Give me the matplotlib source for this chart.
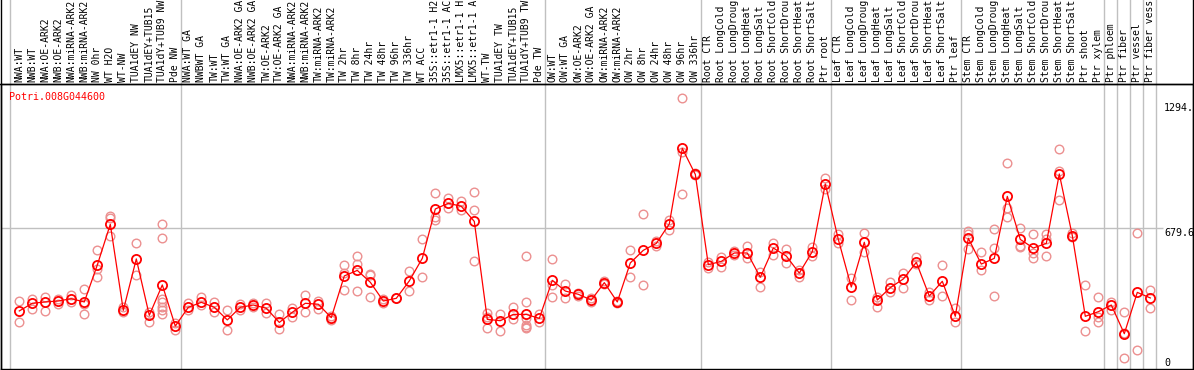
import matplotlib
matplotlib.use("Agg")
import matplotlib.pyplot as plt
from matplotlib.lines import Line2D
from matplotlib.transforms import blended_transform_factory

# ---------------- data ----------------
gene = "Potri.008G044600"

# sample labels as they appear in the chart (cut at 14 characters)
labels = [
    # group 1
    "NWA:WT", "NWB:WT", "NWA:OE-ARK2", "NWB:OE-ARK2", "NWA:miRNA-ARK2", "NWB:miRNA-ARK2",
    "NW 0hr", "WT H2O", "WT-NW", "TUA1dEY NW", "TUA1dEY+TUB15", "TUA1dY+TUB9 NW", "Pde NW",
    # group 2
    "NWA:WT GA", "NWBWT GA", "TW:WT", "TW:WT GA", "NWA:OE-ARK2 GA", "NWB:OE-ARK2 GA",
    "TW:OE-ARK2", "TW:OE-ARK2 GA", "NWA:miRNA-ARK2", "NWB:miRNA-ARK2", "TW:miRNA-ARK2",
    "TW:miRNA-ARK2", "TW 2hr", "TW 8hr", "TW 24hr", "TW 48hr", "TW 96hr", "TW 336hr",
    "WT ACC", "35S::etr1-1 H2", "35S::etr1-1 AC", "LMX5::etr1-1 H", "LMX5::etr1-1 A",
    "WT-TW", "TUA1dEY TW", "TUA1dEY+TUB15", "TUA1dY+TUB9 TW", "Pde TW",
    # group 3
    "OW:WT", "OW:WT GA", "OW:OE-ARK2", "OW:OE-ARK2 GA", "OW:miRNA-ARK2", "OW:miRNA-ARK2",
    "OW 2hr", "OW 8hr", "OW 24hr", "OW 48hr", "OW 96hr", "OW 336hr",
    # group 4
    "Root CTR", "Root LongCold", "Root LongDroug", "Root LongHeat", "Root LongSalt",
    "Root ShortCold", "Root ShortDrou", "Root ShortHeat", "Root ShortSalt", "Ptr root",
    # group 5
    "Leaf CTR", "Leaf LongCold", "Leaf LongDroug", "Leaf LongHeat", "Leaf LongSalt",
    "Leaf ShortCold", "Leaf ShortDrou", "Leaf ShortHeat", "Leaf ShortSalt", "Ptr leaf",
    # group 6
    "Stem CTR", "Stem LongCold", "Stem LongDroug", "Stem LongHeat", "Stem LongSalt",
    "Stem ShortCold", "Stem ShortDrou", "Stem ShortHeat", "Stem ShortSalt", "Ptr shoot",
    "Ptr xylem",
    # single groups
    "Ptr phloem", "Ptr fiber", "Ptr vessel", "Ptr fiber vess",
]

group_sizes = [13, 28, 12, 10, 10, 11, 1, 1, 1, 1]

means = [
    246, 286, 293, 298, 310, 293, 486, 699, 249, 518, 223, 382, 167,
    265, 291, 265, 199, 265, 277, 260, 186, 239, 286, 281, 211, 429, 458, 396, 298,
    312, 403, 521, 779, 809, 793, 714, 202, 195, 228, 228, 207,
    406, 350, 333, 303, 394, 293, 497, 563, 599, 701, 1096, 960,
    488, 505, 549, 549, 422, 575, 533, 444, 556, 910,
    620, 371, 605, 303, 368, 413, 500, 324, 401, 218,
    626, 491, 521, 845, 620, 575, 599, 962, 640, 218, 242,
    277, 127, 343, 314,
]

replicates = [
    [298, 186], [308, 256], [319, 246], [308, 281], [331, 291], [362, 230, 281],
    [563, 465, 423], [742, 730, 640], [268, 239], [599, 432], [242, 190],
    [699, 626, 308, 291, 268, 251, 230], [185, 146],
    [286, 251], [317, 277], [294, 242], [251, 146], [281, 251], [286, 268], [286, 233],
    [228, 150], [263, 213], [329, 242], [300, 256], [221, 199], [486, 444, 354],
    [533, 490, 349], [441, 432, 319], [307, 286], [312], [453, 349], [620, 422],
    [861, 739, 721], [835, 782], [819, 774], [866, 774, 505], [237, 157, 216],
    [230, 139], [267, 204], [533, 291, 207, 172, 164, 155], [228, 186],
    [516, 382, 317], [387, 312], [342, 324], [312, 294], [404, 385], [300, 286],
    [563, 422], [751, 382], [610, 588], [721, 667], [1357, 1075, 856], [965, 955],
    [504, 469], [530, 474], [560, 540], [586, 525], [451, 369], [603, 540],
    [568, 495], [460, 425], [582, 535], [939, 882],
    [648, 599], [416, 303], [652, 552], [320, 268], [399, 347], [443, 364],
    [529, 490], [347, 303], [486, 324], [260, 190],
    [664, 568, 650], [552, 460], [673, 573, 324], [1018, 782, 735], [681, 586, 582],
    [648, 547, 521], [648, 622, 533], [1091, 978, 826], [652, 631], [382, 141],
    [317, 216, 190],
    [294, 251], [239, 0, 130], [652, 42], [355, 260],
]

ref_value = 679.6
right_labels = ["1294.", "679.6", "0"]
right_label_values = [1333, 679.6, 0]

# ---------------- figure ----------------
W, H = 1194, 370
fig = plt.figure(figsize=(W / 100, H / 100), dpi=100)

def fx(px):
    return px / W

def fy(py):
    return 1 - py / H

ax_left, ax_right, ax_top, ax_bot = 1, 1193, 84, 369
ax = fig.add_axes([fx(ax_left), fy(ax_bot), fx(ax_right) - fx(ax_left), fy(ax_top) - fy(ax_bot)])

x0_px, dx_px = 19.3, 13.0
ax.set_xlim((ax_left - x0_px) / dx_px, (ax_right - x0_px) / dx_px)
y0_px, ppu = 358.0, 130.0 / 679.6
ax.set_ylim((y0_px - ax_bot) / ppu, (y0_px - ax_top) / ppu)

ax.set_xticks([])
ax.set_yticks([])
for s in ax.spines.values():
    s.set_color("black")
    s.set_linewidth(1.0)

mono = "DejaVu Sans Mono"
fs = 7.2
fs_lab = 7.0

n = len(means)
xs = list(range(n))

# group separators (gray vertical lines, extending up through the label band)
ext = ax_bot / (ax_bot - ax_top)
seps = [-0.72]
c = 0
for g in group_sizes:
    c += g
    seps.append(c - 1 + 0.44)
for s in seps:
    ax.axvline(s, ymin=0, ymax=ext, color="#c0c0c0", lw=1.0, clip_on=False, zorder=1)

# horizontal reference line
xr_end = (1163 - x0_px) / dx_px
ax.hlines(ref_value, ax.get_xlim()[0], xr_end, color="#c0c0c0", lw=1.0, clip_on=False, zorder=1)

# replicates
rep_x, rep_y = [], []
for i, reps in enumerate(replicates):
    for v in reps:
        rep_x.append(i)
        rep_y.append(v)
ax.plot(rep_x, rep_y, linestyle="none", marker="o", markersize=6.2, markerfacecolor="none",
        markeredgecolor="#ec9090", markeredgewidth=1.0, zorder=2)

# mean line and markers
ax.plot(xs, means, color="red", lw=0.9, zorder=3)
ax.plot(xs, means, linestyle="none", marker="o", markersize=6.6, markerfacecolor="none",
        markeredgecolor="red", markeredgewidth=1.3, zorder=4)

# gene name
ax.text(fx(9), fy(97.5), gene, transform=fig.transFigure, color="red", fontsize=fs,
        family=mono, ha="left", va="center")

# sample labels
tr = blended_transform_factory(ax.transData, fig.transFigure)
for i, lab in enumerate(labels):
    ax.text(i, fy(82), lab, transform=tr, rotation=90, ha="center", va="bottom",
            fontsize=fs_lab, family=mono, color="black", clip_on=False)

# right-side value labels
xl = (1164 - x0_px) / dx_px
for lab, v in zip(right_labels, right_label_values):
    ax.text(xl, v, lab, ha="left", va="top", fontsize=fs, family=mono, color="black",
            clip_on=False)

# outer frame lines spanning the full figure
fig.add_artist(Line2D([fx(0), fx(W)], [fy(ax_top), fy(ax_top)], color="black", lw=1.0))
fig.add_artist(Line2D([fx(ax_left), fx(ax_left)], [fy(ax_bot), 1], color="black", lw=1.0))
fig.add_artist(Line2D([fx(ax_right), fx(ax_right)], [fy(ax_bot), 1], color="black", lw=1.0))

fig.savefig("out.png", dpi=100)
